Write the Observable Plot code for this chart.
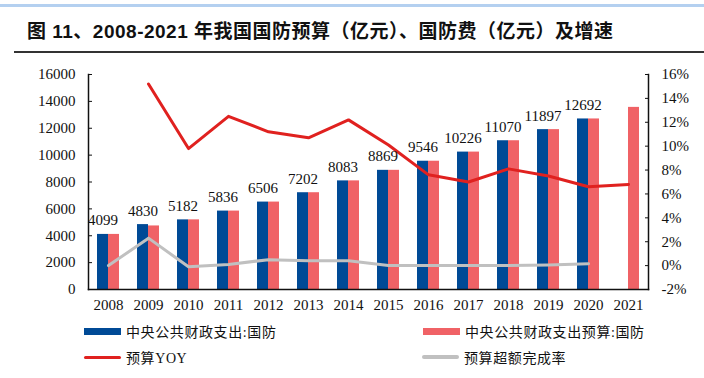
<!DOCTYPE html>
<html><head><meta charset="utf-8">
<script src="https://cdn.jsdelivr.net/npm/d3@7"></script>
<script src="https://cdn.jsdelivr.net/npm/@observablehq/plot@0.6"></script>
<style>
body{margin:0;background:#fff;width:704px;height:378px;overflow:hidden;position:relative;font-family:"Liberation Serif","Times New Roman",serif}
#topline{position:absolute;left:0;top:4px;width:704px;height:3px;background:#b4d0f0}
#title{position:absolute;left:27px;top:20px;font-weight:bold;font-size:19px;letter-spacing:0.5px;font-family:"Liberation Sans","Noto Sans CJK SC",sans-serif;color:#111;white-space:nowrap;line-height:24px}
#rule{position:absolute;left:14px;top:51px;width:690px;height:2px;background:#333}
#chart{position:absolute;left:0;top:56px}
.lg{position:absolute;display:flex;align-items:center;font-size:14px;letter-spacing:0.6px;color:#111;white-space:nowrap;font-family:"Liberation Serif","Noto Sans CJK SC",serif}
.sw{display:inline-block;width:37px;margin-right:5px}
</style></head>
<body>
<div id="topline"></div>
<div id="title">图 11、2008-2021 年我国国防预算（亿元）、国防费（亿元）及增速</div>
<div id="rule"></div>
<div id="chart"></div>
<div id="legend"></div>
<script>
const years = ["2008","2009","2010","2011","2012","2013","2014","2015","2016","2017","2018","2019","2020","2021"];
const actual = [4099,4830,5182,5836,6506,7202,8083,8869,9546,10226,11070,11897,12692,null];
const budget = [4099,4730,5182,5836,6506,7202,8083,8869,9546,10226,11070,11897,12692,13553];
const budgetYoy = [null,15.2,9.8,12.5,11.2,10.7,12.2,10.1,7.6,7.0,8.1,7.5,6.6,6.8];
const overRate = [0.0,2.3,-0.1,0.1,0.5,0.4,0.4,0.0,0.0,0.0,0.0,0.05,0.15,null];
const leftTicks = [0,2000,4000,6000,8000,10000,12000,14000,16000];
const rightTicks = [-2,0,2,4,6,8,10,12,14,16];
const seriesNames = ["中央公共财政支出:国防","中央公共财政支出预算:国防","预算YOY","预算超额完成率"];
const colors = {blue:"#004a96", bar:"#f06266", line:"#e0211f", gray:"#c0c0c0"};

const data = years.map((y,i)=>({year:y, actual:actual[i], budget:budget[i], yoy:budgetYoy[i], over:overRate[i]}));
const yMax = 16000, pMin = -2, pMax = 16;
const toLeft = p => (p - pMin) / (pMax - pMin) * yMax;
const toPct = v => Math.round(v / yMax * (pMax - pMin) + pMin);

const chart = Plot.plot({
  width: 704, height: 262,
  marginTop: 18, marginBottom: 29, marginLeft: 88, marginRight: 56,
  style: {fontSize: "15px", fontFamily: "'Liberation Serif','Times New Roman',serif", color: "#111", background: "transparent"},
  x: {type: "band", domain: years, padding: 0, label: null},
  y: {domain: [0, yMax], label: null},
  marks: [
    Plot.barY(data.filter(d => d.actual != null), {x: "year", y: "actual", fill: colors.blue, insetLeft: 9, insetRight: 20}),
    Plot.barY(data, {x: "year", y: "budget", fill: colors.bar, insetLeft: 20, insetRight: 9}),
    Plot.line(data.filter(d => d.yoy != null), {x: "year", y: d => toLeft(d.yoy), stroke: colors.line, strokeWidth: 3}),
    Plot.line(data.filter(d => d.over != null), {x: "year", y: d => toLeft(d.over), stroke: colors.gray, strokeWidth: 3}),
    Plot.text(data.filter(d => d.actual != null), {x: "year", y: "actual", text: d => String(d.actual), dx: -5.5, dy: -9, lineAnchor: "bottom", fontSize: 15}),
    Plot.axisX({tickSize: 0, tickPadding: 10, label: null}),
    Plot.axisY({anchor: "left", ticks: leftTicks, tickFormat: d => String(d), tickSize: 4, insetLeft: 4, tickPadding: 13, label: null}),
    Plot.axisY({anchor: "right", ticks: rightTicks.map(toLeft), tickFormat: v => toPct(v) + "%", tickSize: 4, insetRight: 4, tickPadding: 13, label: null}),
    Plot.frame({stroke: "#111", strokeWidth: 1.5, anchor: "left"}),
    Plot.frame({stroke: "#111", strokeWidth: 1.5, anchor: "right"}),
    Plot.frame({stroke: "#111", strokeWidth: 1.5, anchor: "bottom"})
  ]
});
document.getElementById("chart").appendChild(chart);

const legendItems = [
  {name: seriesNames[0], color: colors.blue, h: 7, left: 84, top: 322},
  {name: seriesNames[1], color: colors.bar, h: 7, left: 423, top: 322},
  {name: seriesNames[2], color: colors.line, h: 3, left: 84, top: 348},
  {name: seriesNames[3], color: colors.gray, h: 4, left: 422, top: 348}
];
const lg = document.getElementById("legend");
for (const it of legendItems) {
  const el = document.createElement("div");
  el.className = "lg";
  el.style.left = it.left + "px";
  el.style.top = it.top + "px";
  el.style.height = "18px";
  const sw = document.createElement("span");
  sw.className = "sw";
  sw.style.height = it.h + "px";
  sw.style.background = it.color;
  if (it.h < 7) sw.style.borderRadius = "2px";
  el.appendChild(sw);
  const t = document.createElement("span");
  t.textContent = it.name;
  el.appendChild(t);
  lg.appendChild(el);
}
</script>
</body></html>
